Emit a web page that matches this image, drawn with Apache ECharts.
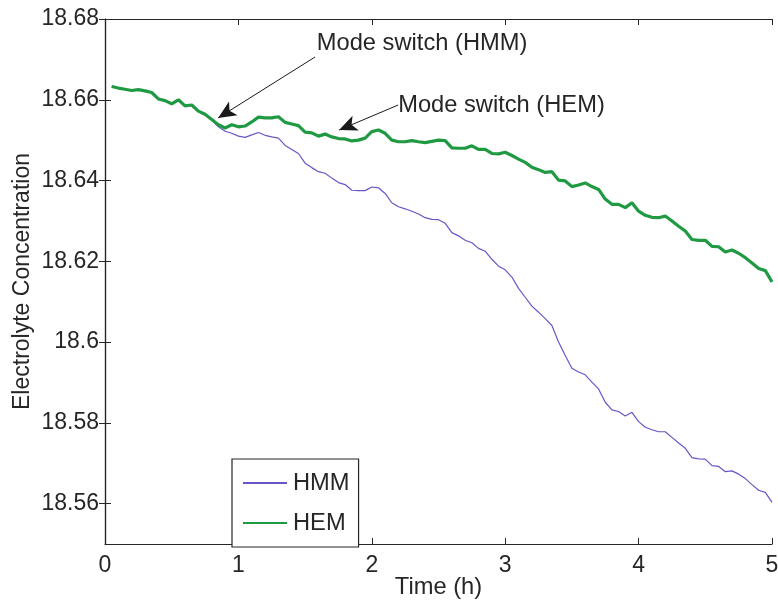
<!DOCTYPE html>
<html>
<head>
<meta charset="utf-8">
<script src="https://cdn.jsdelivr.net/npm/echarts@6/dist/echarts.min.js"></script>
<style>html,body{margin:0;padding:0;background:#fff}#c{width:778px;height:601px}</style>
</head>
<body>
<div id="c"></div>
<script>
// Time (h), every 0.05 h from 0.05 to 5.00
const timeH = [];
for (let k = 1; k <= 100; k++) timeH.push(+(k * 0.05).toFixed(2));

const hemValues = [
18.6633,18.6629,18.6626,18.6623,18.6625,18.6622,18.6618,18.6602,18.6598,18.6590,
18.6600,18.6585,18.6587,18.6572,18.6564,18.6551,18.6538,18.6530,18.6538,18.6533,
18.6535,18.6545,18.6557,18.6555,18.6555,18.6558,18.6544,18.6540,18.6536,18.6520,
18.6518,18.6510,18.6515,18.6508,18.6504,18.6503,18.6498,18.6500,18.6505,18.6521,
18.6525,18.6517,18.6500,18.6496,18.6496,18.6499,18.6496,18.6494,18.6497,18.6500,
18.6499,18.6481,18.6480,18.6480,18.6486,18.6477,18.6477,18.6467,18.6466,18.6470,
18.6462,18.6453,18.6445,18.6433,18.6427,18.6420,18.6422,18.6401,18.6399,18.6385,
18.6389,18.6394,18.6385,18.6378,18.6354,18.6341,18.6341,18.6333,18.6345,18.6324,
18.6314,18.6309,18.6308,18.6312,18.6300,18.6287,18.6275,18.6254,18.6252,18.6252,
18.6237,18.6236,18.6223,18.6228,18.6220,18.6209,18.6196,18.6182,18.6177,18.6149
];

const hmmValues = [
18.6633,18.6629,18.6626,18.6623,18.6625,18.6622,18.6618,18.6602,18.6598,18.6590,
18.6600,18.6585,18.6587,18.6572,18.6562,18.6550,18.6533,18.6522,18.6517,18.6510,
18.6507,18.6513,18.6519,18.6512,18.6508,18.6505,18.6487,18.6477,18.6467,18.6443,
18.6432,18.6422,18.6418,18.6406,18.6395,18.6390,18.6376,18.6375,18.6375,18.6384,
18.6382,18.6368,18.6345,18.6335,18.6330,18.6324,18.6317,18.6308,18.6304,18.6303,
18.6294,18.6271,18.6263,18.6252,18.6246,18.6232,18.6225,18.6205,18.6188,18.6179,
18.6161,18.6133,18.6111,18.6089,18.6074,18.6058,18.6041,18.6000,18.5967,18.5935,
18.5926,18.5919,18.5901,18.5884,18.5851,18.5832,18.5828,18.5817,18.5826,18.5803,
18.5789,18.5783,18.5778,18.5778,18.5764,18.5750,18.5737,18.5714,18.5711,18.5710,
18.5694,18.5692,18.5679,18.5681,18.5673,18.5662,18.5647,18.5633,18.5628,18.5603
];

const yTicks = [18.56, 18.58, 18.6, 18.62, 18.64, 18.66, 18.68];
const xTicks = [0, 1, 2, 3, 4, 5];

// annotations: [text, text anchor [x,y], arrow start [x,y], arrow tip [x,y]]
const annotations = [
  ['Mode switch (HMM)', [1.5875, 18.6739], [1.575, 18.6706], [0.8475, 18.6555]],
  ['Mode switch (HEM)', [2.1975, 18.6586], [2.1975, 18.6587], [1.755, 18.6525]]
];

const FONT = '"Liberation Sans", Arial, Helvetica, sans-serif';
const TXT = '#262626';
const FS = 23;
const FS2 = 23.7;

const zip = (xs, ys) => xs.map((x, i) => [x, ys[i]]);

const chart = echarts.init(document.getElementById('c'), null, {renderer: 'canvas'});

const axisLineStyle = {show: true, lineStyle: {color: '#262626', width: 1.2}};
const fmtY = v => String(+(+v).toFixed(2));

const option = {
  animation: false,
  backgroundColor: '#fff',
  textStyle: {fontFamily: FONT, color: TXT},
  grid: {left: 105, right: 6, top: 19, bottom: 57, containLabel: false, outerBoundsMode: 'none'},
  legend: {
    orient: 'vertical',
    left: 232, top: 459,
    data: ['HMM', 'HEM'],
    itemWidth: 44, itemHeight: 14, itemGap: 16,
    padding: [12, 9, 12, 10],
    borderColor: '#262626', borderWidth: 1.2, borderRadius: 0,
    backgroundColor: '#fff',
    itemStyle: {opacity: 0},
    textStyle: {fontFamily: FONT, fontSize: FS2, color: TXT, padding: [0, 0, 0, 1]}
  },
  xAxis: [
    {
      type: 'value', min: xTicks[0], max: xTicks[xTicks.length - 1], interval: 1,
      name: 'Time (h)', nameLocation: 'middle', nameGap: 31, nameMoveOverlap: false,
      nameTextStyle: {fontFamily: FONT, fontSize: FS2, color: TXT},
      axisLine: axisLineStyle,
      axisTick: {show: true, inside: true, length: 6, lineStyle: {color: '#262626'}},
      axisLabel: {fontFamily: FONT, fontSize: FS, color: TXT, margin: 10},
      splitLine: {show: false}
    },
    {
      type: 'value', position: 'top', min: xTicks[0], max: xTicks[xTicks.length - 1], interval: 1,
      axisLine: axisLineStyle,
      axisTick: {show: true, inside: true, length: 6, lineStyle: {color: '#262626'}},
      axisLabel: {show: false}, splitLine: {show: false}
    }
  ],
  yAxis: [
    {
      type: 'value', min: 18.55, max: 18.68,
      name: 'Electrolyte Concentration', nameLocation: 'middle', nameGap: 71, nameMoveOverlap: false,
      nameTextStyle: {fontFamily: FONT, fontSize: FS, color: TXT},
      axisLine: axisLineStyle,
      axisTick: {show: true, inside: true, length: 6, customValues: yTicks, lineStyle: {color: '#262626'}},
      axisLabel: {fontFamily: FONT, fontSize: FS, color: TXT, margin: 6, customValues: yTicks, formatter: fmtY},
      splitLine: {show: false}
    },
    {
      type: 'value', position: 'right', min: 18.55, max: 18.68,
      axisLine: axisLineStyle,
      axisTick: {show: true, inside: true, length: 6, customValues: yTicks, lineStyle: {color: '#262626'}},
      axisLabel: {show: false, customValues: yTicks}, splitLine: {show: false}
    }
  ],
  series: [
    {
      name: 'HMM', type: 'line', xAxisIndex: 0, yAxisIndex: 0,
      data: zip(timeH, hmmValues), symbol: 'none', showSymbol: false,
      lineStyle: {color: '#6a55c8', width: 1.2}, itemStyle: {color: '#6a55c8'}
    },
    {
      name: 'HEM', type: 'line', xAxisIndex: 0, yAxisIndex: 0,
      data: zip(timeH, hemValues), symbol: 'none', showSymbol: false, z: 3,
      lineStyle: {color: '#1f9a42', width: 3.2}, itemStyle: {color: '#1f9a42'},
      markLine: {
        silent: true, animation: false,
        symbol: ['none', 'arrow'], symbolSize: [12, 18],
        lineStyle: {color: '#1a1a1a', width: 1, type: 'solid'},
        label: {show: false},
        emphasis: {disabled: true},
        data: annotations.map(a => [{coord: a[2]}, {coord: a[3]}])
      },
      markPoint: {
        silent: true, animation: false,
        symbol: 'circle', symbolSize: 0,
        itemStyle: {color: 'rgba(0,0,0,0)'},
        label: {show: true, position: 'right', distance: 0, formatter: p => p.name,
                fontFamily: FONT, fontSize: FS2, color: TXT},
        data: annotations.map(a => ({name: a[0], coord: a[1], value: 0}))
      }
    }
  ]
};
chart.setOption(option);
</script>
</body>
</html>
